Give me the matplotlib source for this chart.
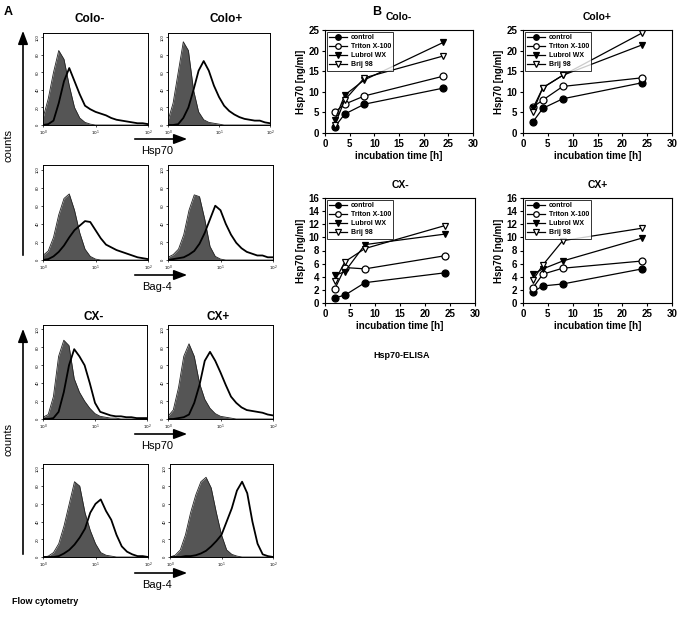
import numpy as np
import matplotlib
matplotlib.use("Agg")
import matplotlib.pyplot as plt

plt.rcParams['font.family'] = ['Liberation Sans', 'DejaVu Sans']

W, H = 684, 617

# ---- panel A: flow cytometry histograms (log10 fluorescence 0..2, % of max) ----
log_fl = [0.0, 0.1, 0.2, 0.3, 0.4, 0.5, 0.6, 0.7, 0.8, 0.9, 1.0,
          1.1, 1.2, 1.3, 1.4, 1.5, 1.6, 1.7, 1.8, 1.9, 2.0]

colo_minus_hsp_ctrl = [8, 30, 60, 85, 75, 45, 20, 8, 3, 1, 0, 0, 0, 0, 0, 0, 0, 0, 0, 0, 0]
colo_minus_hsp_stain = [0, 1, 5, 25, 50, 65, 50, 35, 22, 18, 15, 13, 11, 8, 6, 5, 4, 3, 2, 2, 1]
colo_plus_hsp_ctrl = [5, 25, 60, 95, 85, 40, 15, 6, 3, 2, 1, 0, 0, 0, 0, 0, 0, 0, 0, 0, 0]
colo_plus_hsp_stain = [0, 0, 1, 8, 20, 40, 62, 73, 62, 45, 32, 22, 16, 12, 9, 7, 6, 5, 5, 3, 2]
colo_minus_bag_ctrl = [5, 10, 25, 50, 68, 73, 55, 30, 12, 4, 1, 0, 0, 0, 0, 0, 0, 0, 0, 0, 0]
colo_minus_bag_stain = [0, 1, 4, 9, 16, 25, 33, 38, 43, 42, 33, 24, 17, 14, 11, 9, 7, 5, 3, 2, 1]
colo_plus_bag_ctrl = [3, 6, 12, 28, 55, 72, 70, 45, 15, 4, 1, 0, 0, 0, 0, 0, 0, 0, 0, 0, 0]
colo_plus_bag_stain = [0, 1, 2, 3, 6, 10, 18, 30, 45, 60, 55, 40, 28, 19, 13, 9, 7, 5, 5, 3, 3]
cx_minus_hsp_ctrl = [2, 5, 25, 70, 88, 82, 45, 30, 20, 12, 6, 3, 2, 1, 1, 0, 0, 0, 0, 0, 0]
cx_minus_hsp_stain = [0, 0, 1, 8, 30, 60, 78, 70, 60, 40, 18, 8, 6, 4, 3, 3, 2, 2, 1, 1, 1]
cx_plus_hsp_ctrl = [3, 10, 35, 70, 84, 70, 40, 22, 12, 6, 3, 2, 1, 0, 0, 0, 0, 0, 0, 0, 0]
cx_plus_hsp_stain = [0, 0, 1, 2, 5, 18, 38, 65, 75, 65, 52, 38, 25, 18, 13, 10, 9, 8, 7, 5, 4]
cx_minus_bag_ctrl = [0, 1, 5, 15, 35, 60, 85, 80, 50, 30, 15, 5, 2, 1, 0, 0, 0, 0, 0, 0, 0]
cx_minus_bag_stain = [0, 0, 0, 1, 4, 8, 14, 22, 32, 50, 60, 65, 52, 42, 25, 12, 6, 3, 1, 1, 0]
cx_plus_bag_ctrl = [0, 2, 8, 25, 50, 70, 85, 90, 78, 50, 25, 8, 3, 1, 0, 0, 0, 0, 0, 0, 0]
cx_plus_bag_stain = [0, 0, 0, 1, 1, 2, 4, 7, 12, 18, 25, 40, 55, 75, 85, 72, 40, 15, 3, 1, 0]

# ---- panel B: Hsp70 ELISA ----
hours = [2, 4, 8, 24]
detergents = ['control', 'Triton X-100', 'Lubrol WX', 'Brij 98']
colo_minus = {'control': [1.5, 4.6, 7.0, 10.9], 'Triton X-100': [5.1, 7.0, 9.0, 13.8],
              'Lubrol WX': [3.2, 9.2, 12.9, 22.0], 'Brij 98': [2.0, 8.0, 13.4, 18.7]}
colo_plus = {'control': [2.7, 6.0, 8.3, 12.2], 'Triton X-100': [6.3, 8.0, 11.3, 13.4],
             'Lubrol WX': [6.0, 11.0, 14.0, 21.4], 'Brij 98': [5.2, 11.0, 14.0, 24.3]}
cx_minus = {'control': [0.8, 1.2, 3.1, 4.6], 'Triton X-100': [2.2, 5.4, 5.2, 7.2],
            'Lubrol WX': [4.2, 4.8, 8.9, 10.5], 'Brij 98': [3.4, 6.3, 8.3, 11.8]}
cx_plus = {'control': [1.7, 2.6, 2.9, 5.2], 'Triton X-100': [2.3, 4.4, 5.3, 6.4],
           'Lubrol WX': [4.4, 5.2, 6.4, 9.9], 'Brij 98': [3.5, 5.8, 9.5, 11.4]}
styles = {'control': ('o', 'black'), 'Triton X-100': ('o', 'white'),
          'Lubrol WX': ('v', 'black'), 'Brij 98': ('v', 'white')}


def box(l, t, r, b):
    return [l / W, 1 - b / H, (r - l) / W, (b - t) / H]


fig = plt.figure(figsize=(W / 100, H / 100), dpi=100)

# overlay for free text / arrows in pixel coordinates
ov = fig.add_axes([0, 0, 1, 1])
ov.set_xlim(0, W)
ov.set_ylim(H, 0)
ov.axis('off')


def histo(rect, ctrl, stain):
    ax = fig.add_axes(box(*rect))
    x = 10 ** np.array(log_fl)
    ax.fill_between(x, 0, ctrl, color='#555555', lw=0)
    ax.plot(x, ctrl, color='#222222', lw=0.6)
    ax.plot(x, stain, color='black', lw=1.3)
    ax.set_xscale('log')
    ax.set_xlim(1, 100)
    ax.set_ylim(0, 105)
    ax.set_xticks([1, 10, 100])
    ax.set_xticklabels(['$10^0$', '$10^1$', '$10^2$'], fontsize=3)
    ax.minorticks_off()
    ax.set_yticks([0, 20, 40, 60, 80, 100])
    ax.set_yticklabels(['0', '20', '40', '60', '80', '100'], fontsize=3, rotation=90, va='center')
    ax.tick_params(length=1.5, width=0.5, pad=1)
    for s in ax.spines.values():
        s.set_linewidth(0.7)
    return ax


histo((43, 33, 148, 125), colo_minus_hsp_ctrl, colo_minus_hsp_stain)
histo((168, 33, 270, 125), colo_plus_hsp_ctrl, colo_plus_hsp_stain)
histo((43, 165, 148, 260), colo_minus_bag_ctrl, colo_minus_bag_stain)
histo((168, 165, 273, 260), colo_plus_bag_ctrl, colo_plus_bag_stain)
histo((43, 325, 147, 419), cx_minus_hsp_ctrl, cx_minus_hsp_stain)
histo((168, 325, 273, 419), cx_plus_hsp_ctrl, cx_plus_hsp_stain)
histo((43, 464, 148, 557), cx_minus_bag_ctrl, cx_minus_bag_stain)
histo((170, 464, 273, 557), cx_plus_bag_ctrl, cx_plus_bag_stain)

ov.text(4, 12, 'A', fontsize=9, fontweight='bold', va='center')
ov.text(90, 19, 'Colo-', fontsize=8.5, fontweight='bold', ha='center', va='center')
ov.text(226, 19, 'Colo+', fontsize=8.5, fontweight='bold', ha='center', va='center')
ov.text(94, 317, 'CX-', fontsize=8.5, fontweight='bold', ha='center', va='center')
ov.text(218, 317, 'CX+', fontsize=8.5, fontweight='bold', ha='center', va='center')

arrow_kw = dict(arrowstyle='-|>,head_length=0.8,head_width=0.3', color='black', lw=1.2)
for y0, txt in [(139, 'Hsp70'), (275, 'Bag-4'), (434, 'Hsp70'), (573, 'Bag-4')]:
    ov.annotate('', xy=(190, y0), xytext=(132, y0), arrowprops=arrow_kw)
    ov.text(157, y0 + 12, txt, fontsize=8, ha='center', va='center')

for top, bot, mid in [(28, 258, 145), (326, 557, 440)]:
    ov.annotate('', xy=(23, top), xytext=(23, bot), arrowprops=arrow_kw)
    ov.text(9, mid, 'counts', fontsize=8, rotation=90, ha='center', va='center')

ov.text(12, 602, 'Flow cytometry', fontsize=6.5, fontweight='bold', va='center')

# ---- panel B ----
ov.text(372, 12, 'B', fontsize=9, fontweight='bold', va='center')


def elisa(rect, data, title, ymax, ystep):
    ax = fig.add_axes(box(*rect))
    for name in detergents:
        m, fc = styles[name]
        ax.plot(hours, data[name], color='black', lw=0.9, marker=m, ms=5,
                mfc=fc, mec='black', mew=0.9, label=name)
    ax.set_xlim(0, 30)
    ax.set_ylim(0, ymax)
    ax.set_xticks(range(0, 31, 5))
    ax.set_yticks(range(0, ymax + 1, ystep))
    ax.tick_params(labelsize=7, length=2.5, width=0.8, pad=1.5)
    for lab in ax.get_xticklabels() + ax.get_yticklabels():
        lab.set_fontweight('bold')
    for s in ax.spines.values():
        s.set_linewidth(0.8)
    ax.set_xlabel('incubation time [h]', fontsize=7, fontweight='bold', labelpad=2)
    ax.set_ylabel('Hsp70 [ng/ml]', fontsize=7, fontweight='bold', labelpad=2)
    ax.set_title(title, fontsize=7.5, fontweight='bold', pad=7)
    leg = ax.legend(loc='upper left', frameon=True, fancybox=False,
                    borderaxespad=0.25, borderpad=0.35, labelspacing=0.3,
                    handlelength=2.6, handletextpad=0.5, prop={'weight': 'bold', 'size': 5})
    leg.get_frame().set_edgecolor('black')
    leg.get_frame().set_linewidth(0.7)
    for h in leg.legend_handles:
        h.set_markersize(4)
    return ax


elisa((325, 30, 473, 133), colo_minus, 'Colo-', 25, 5)
elisa((523, 30, 672, 133), colo_plus, 'Colo+', 25, 5)
elisa((325, 198, 475, 303), cx_minus, 'CX-', 16, 2)
elisa((523, 198, 672, 303), cx_plus, 'CX+', 16, 2)

ov.text(373, 356, 'Hsp70-ELISA', fontsize=6.5, fontweight='bold', va='center')

fig.savefig('out.png', dpi=100)
